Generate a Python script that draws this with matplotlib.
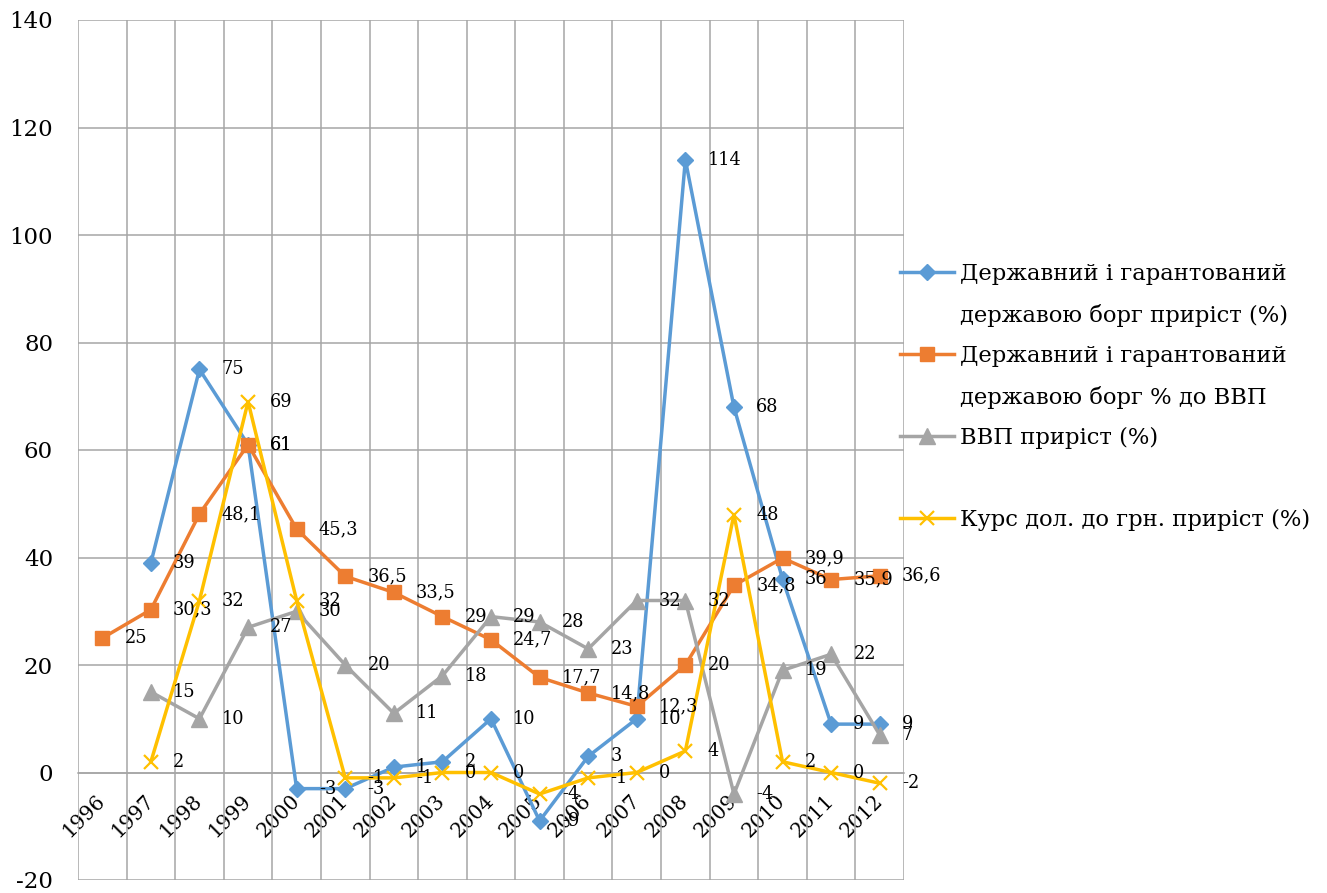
import numpy as np
import matplotlib.pyplot as plt
from matplotlib.lines import Line2D

plt.rcParams['font.family'] = ['DejaVu Serif']
plt.rcParams['axes.unicode_minus'] = False

years = [str(y) for y in range(1996, 2013)]
nan = np.nan

debt_growth = [nan, 39, 75, 61, -3, -3, 1, 2, 10, -9, 3, 10, 114, 68, 36, 9, 9]
debt_gdp = [25, 30.3, 48.1, 61, 45.3, 36.5, 33.5, 29, 24.7, 17.7, 14.8, 12.3, 20, 34.8, 39.9, 35.9, 36.6]
gdp_growth = [nan, 15, 10, 27, 30, 20, 11, 18, 29, 28, 23, 32, 32, -4, 19, 22, 7]
usd_rate = [nan, 2, 32, 69, 32, -1, -1, 0, 0, -4, -1, 0, 4, 48, 2, 0, -2]

names = [
    ['Державний і гарантований', 'державою борг приріст (%)'],
    ['Державний і гарантований', 'державою борг % до ВВП'],
    ['ВВП приріст (%)'],
    ['Курс дол. до грн. приріст (%)'],
]
series = [debt_growth, debt_gdp, gdp_growth, usd_rate]
colors = ['#5B9BD5', '#ED7D31', '#A5A5A5', '#FFC000']
markers = [('D', 8, 1), ('s', 10.5, 1), ('^', 11.5, 1), ('x', 10, 1.6)]


def fmt(v):
    if float(v).is_integer():
        return str(int(v))
    return str(v).replace('.', ',')


W, H = 1327, 893
fig = plt.figure(figsize=(W / 100, H / 100), dpi=100)
ax = fig.add_axes([78 / W, 13 / H, (904 - 78) / W, 860 / H])

x = np.arange(len(years))
handles = []
for vals, c, (m, ms, mew) in zip(series, colors, markers):
    vals = np.array(vals, dtype=float)
    ln, = ax.plot(x, vals, color=c, lw=2.5, marker=m, ms=ms, mew=mew,
                  mec=c, mfc=c, zorder=3, clip_on=False)
    handles.append(ln)
    for xi, v in zip(x, vals):
        if np.isnan(v):
            continue
        ax.annotate(fmt(v), (xi, v), xytext=(16, 0), textcoords='offset points',
                    ha='left', va='center', fontsize=12.8, color='black',
                    zorder=5, annotation_clip=False)

ax.set_xlim(-0.5, len(years) - 0.5)
ax.set_ylim(-20, 140)
ax.set_yticks(range(-20, 141, 20))
ax.set_xticks(x)
ax.set_xticklabels(years)
ax.set_xticks(np.arange(-0.5, len(years), 1), minor=True)

grid_c = '#A6A6A6'
ax.grid(which='minor', axis='x', color=grid_c, lw=1.1)
ax.grid(which='major', axis='y', color=grid_c, lw=1.1)
ax.set_axisbelow(True)

for s in ['top', 'right', 'left']:
    ax.spines[s].set_visible(False)
ax.spines['bottom'].set_position(('data', 0))
ax.spines['bottom'].set_color(grid_c)
ax.spines['bottom'].set_linewidth(1.1)

ax.tick_params(axis='y', length=0, pad=18, labelsize=16.5)
ax.tick_params(axis='x', which='both', length=0, pad=18, labelsize=14.5)
plt.setp(ax.get_xticklabels(), rotation=45, ha='right', va='center',
         rotation_mode='anchor')

# legend rows: first line of a label carries the marker, continuation lines get a blank handle
blank = Line2D([], [], linestyle='none')
leg_handles, leg_labels = [], []
for h, lines in zip(handles, names):
    if h is handles[3]:
        leg_handles.append(blank)
        leg_labels.append(' ')
    leg_handles.append(h)
    leg_labels.append(lines[0])
    for extra in lines[1:]:
        leg_handles.append(blank)
        leg_labels.append(extra)

fig.legend(leg_handles, leg_labels, loc='upper left',
           bbox_to_anchor=(900 / W, 1 - 263 / H), frameon=False,
           fontsize=16.3, handlelength=2.4, handletextpad=0.25,
           labelspacing=0.82, borderpad=0, borderaxespad=0)

fig.savefig('out.png', dpi=100, facecolor='white')
